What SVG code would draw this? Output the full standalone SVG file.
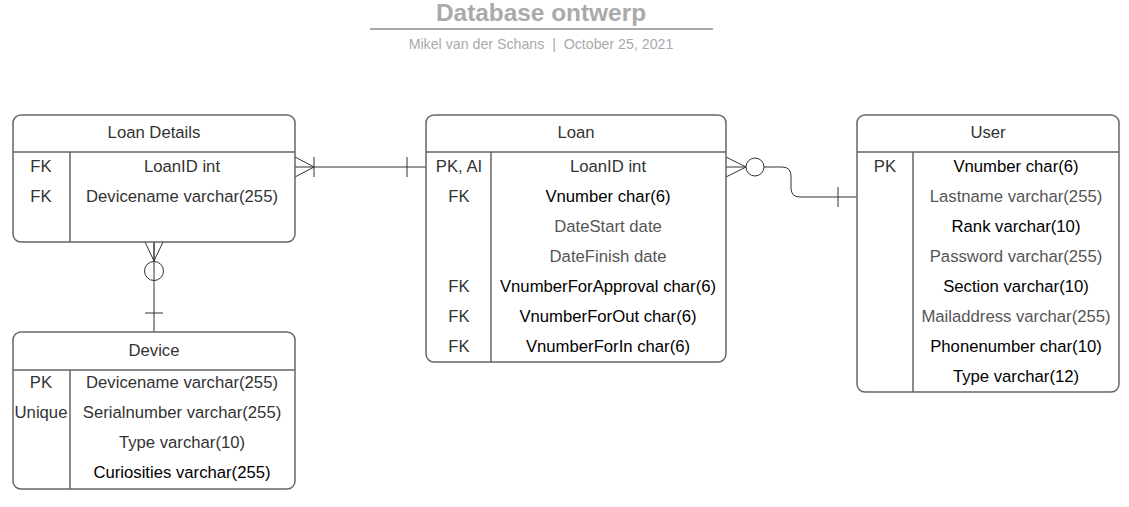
<svg xmlns="http://www.w3.org/2000/svg" width="1129" height="507" viewBox="0 0 1129 507">
<style>
text{font-family:"Liberation Sans",Arial,sans-serif;font-size:16.7px;text-anchor:middle;fill:#333}
.b{fill:#000}
.l{fill:#555}
.box{fill:#fff;stroke:#666;stroke-width:1.5}
.sep{stroke:#666;stroke-width:1.5;fill:none}
.c{stroke:#333;stroke-width:1;fill:none}
.t{font-size:24.4px;font-weight:bold;fill:#aaa}
.s{font-size:14.2px;fill:#aaa}
</style>
<rect width="1129" height="507" fill="#fff"/>
<g id="title">
<text class="t" x="541" y="21">Database ontwerp</text>
<line x1="370" y1="29" x2="713" y2="29" stroke="#aaa" stroke-width="2"/>
<text class="s" x="541" y="49" xml:space="preserve">Mikel van der Schans  |  October 25, 2021</text>
</g>
<g id="connectors">
<path class="c" d="M295,167 H426"/>
<path class="c" d="M295,157 L314,167 L295,177 M314,157 V177 M407,157 V177"/>
<path class="c" d="M726,157 L746,167 L726,177 M726,167 H746"/>
<circle class="c" cx="755" cy="167" r="9" fill="#fff"/>
<path class="c" d="M764,167 H782 Q791,167 791,176 V188 Q791,197 800,197 H857 M838,187 V207"/>
<path class="c" d="M154,242 V332 M145,242 L154,261 L163,242 M154,242 V261 M145,313 H163"/>
<circle class="c" cx="154" cy="271" r="9.5" fill="#fff"/>
</g>
<g id="loan-details">
<rect class="box" x="13" y="115" width="282" height="127" rx="8"/>
<path class="sep" d="M13,152 H295 M70,152 V242"/>
<text x="154" y="138">Loan Details</text>
<text x="41" y="172">FK</text><text x="182" y="172">LoanID int</text>
<text x="41" y="202">FK</text><text x="182" y="202">Devicename varchar(255)</text>
</g>
<g id="device">
<rect class="box" x="13" y="332" width="282" height="157" rx="8"/>
<path class="sep" d="M13,370 H295 M70,370 V489"/>
<text x="154" y="356">Device</text>
<text x="41" y="388">PK</text><text x="182" y="388">Devicename varchar(255)</text>
<text x="41" y="418">Unique</text><text x="182" y="418">Serialnumber varchar(255)</text>
<text x="182" y="448">Type varchar(10)</text>
<text class="b" x="182" y="478">Curiosities varchar(255)</text>
</g>
<g id="loan">
<rect class="box" x="426" y="115" width="300" height="247" rx="8"/>
<path class="sep" d="M426,152 H726 M491,152 V362"/>
<text x="576" y="138">Loan</text>
<text x="459" y="172">PK, AI</text><text x="608" y="172">LoanID int</text>
<text x="459" y="202">FK</text><text class="b" x="608" y="202">Vnumber char(6)</text>
<text class="l" x="608" y="232">DateStart date</text>
<text class="l" x="608" y="262">DateFinish date</text>
<text x="459" y="292">FK</text><text class="b" x="608" y="292">VnumberForApproval char(6)</text>
<text x="459" y="322">FK</text><text class="b" x="608" y="322">VnumberForOut char(6)</text>
<text x="459" y="352">FK</text><text class="b" x="608" y="352">VnumberForIn char(6)</text>
</g>
<g id="user">
<rect class="box" x="857" y="115" width="262" height="277" rx="8"/>
<path class="sep" d="M857,152 H1119 M913,152 V392"/>
<text x="988" y="138">User</text>
<text x="885" y="172">PK</text><text class="b" x="1016" y="172">Vnumber char(6)</text>
<text class="l" x="1016" y="202">Lastname varchar(255)</text>
<text class="b" x="1016" y="232">Rank varchar(10)</text>
<text class="l" x="1016" y="262">Password varchar(255)</text>
<text class="b" x="1016" y="292">Section varchar(10)</text>
<text class="l" x="1016" y="322">Mailaddress varchar(255)</text>
<text class="b" x="1016" y="352">Phonenumber char(10)</text>
<text class="b" x="1016" y="382">Type varchar(12)</text>
</g>
</svg>
